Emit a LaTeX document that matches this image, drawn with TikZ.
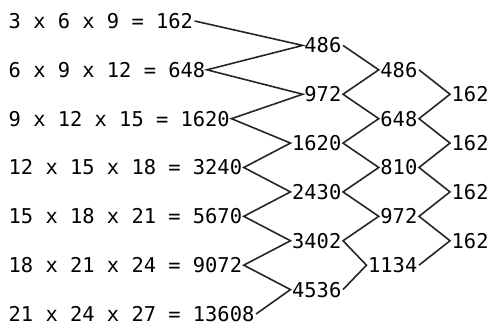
\documentclass[tikz,border=0pt]{standalone}
\usepackage{fontspec}
\setmonofont{DejaVu Sans Mono}
\usetikzlibrary{positioning}

\begin{document}
\begin{tikzpicture}[x=1pt,y=1pt,
num/.style={font=\ttfamily\fontsize{20.4}{24}\selectfont,inner sep=1.5pt},
zig/.style={line width=1.6pt,line join=miter,draw=black!85}]
\useasboundingbox (0,0) rectangle (491,327);

% products
\node[num,anchor=west] (e1) at (7,306) {3 x 6 x 9 = 162};
\node[num,anchor=west] (e2) at (7,257.17) {6 x 9 x 12 = 648};
\node[num,anchor=west] (e3) at (7,208.33) {9 x 12 x 15 = 1620};
\node[num,anchor=west] (e4) at (7,159.5) {12 x 15 x 18 = 3240};
\node[num,anchor=west] (e5) at (7,110.67) {15 x 18 x 21 = 5670};
\node[num,anchor=west] (e6) at (7,61.83) {18 x 21 x 24 = 9072};
\node[num,anchor=west] (e7) at (7,13) {21 x 24 x 27 = 13608};

% first differences
\node[num,anchor=east] (d1) at (343,281.58) {486};
\node[num,anchor=east] (d2) at (343,232.75) {972};
\node[num,anchor=east] (d3) at (343,183.92) {1620};
\node[num,anchor=east] (d4) at (343,135.08) {2430};
\node[num,anchor=east] (d5) at (343,86.25) {3402};
\node[num,anchor=east] (d6) at (343,37.42) {4536};

% second differences
\node[num,anchor=east] (s1) at (419,257.17) {486};
\node[num,anchor=east] (s2) at (419,208.33) {648};
\node[num,anchor=east] (s3) at (419,159.5) {810};
\node[num,anchor=east] (s4) at (419,110.67) {972};
\node[num,anchor=east] (s5) at (419,61.83) {1134};

% third differences
\node[num,anchor=west] (t1) at (450,232.75) {162};
\node[num,anchor=west] (t2) at (450,183.92) {162};
\node[num,anchor=west] (t3) at (450,135.08) {162};
\node[num,anchor=west] (t4) at (450,86.25) {162};

\draw[zig] (e1.east) -- (d1.west) -- (e2.east) -- (d2.west) -- (e3.east) -- (d3.west)
  -- (e4.east) -- (d4.west) -- (e5.east) -- (d5.west) -- (e6.east) -- (d6.west) -- (e7.east);
\draw[zig] (d1.east) -- (s1.west) -- (d2.east) -- (s2.west) -- (d3.east) -- (s3.west)
  -- (d4.east) -- (s4.west) -- (d5.east) -- (s5.west) -- (d6.east);
\draw[zig] (s1.east) -- (t1.west) -- (s2.east) -- (t2.west) -- (s3.east) -- (t3.west)
  -- (s4.east) -- (t4.west) -- (s5.east);
\end{tikzpicture}
\end{document}
